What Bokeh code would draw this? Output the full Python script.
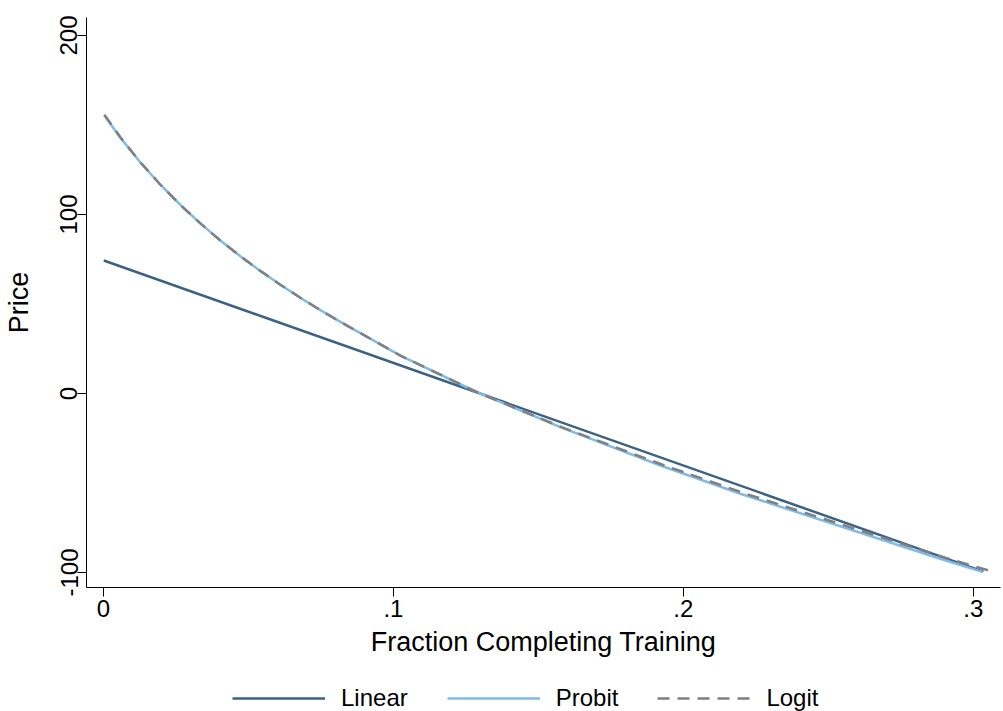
from bokeh.plotting import figure
from bokeh.layouts import column
from bokeh.models import Range1d, FixedTicker, Legend, LegendItem
from bokeh.embed import file_html
from bokeh.resources import INLINE

# ---- data ----
linear_x = [0.0001, 0.3035]
linear_y = [74.3, -99.5]

probit_x = [0.0003, 0.0059, 0.0128, 0.0197, 0.0266, 0.0335, 0.0403, 0.0472,
            0.0541, 0.0610, 0.0679, 0.0748, 0.0811, 0.1024, 0.1289, 0.1576,
            0.1921, 0.2197, 0.2886, 0.3034]
probit_y = [155.3, 142.7, 128.9, 116.5, 105.2, 94.9, 85.5, 76.7,
            68.5, 60.8, 53.5, 46.6, 40.6, 21.2, 0.7, -18.8,
            -40.2, -56.0, -92.3, -99.8]

logit_x = [0.0003, 0.0059, 0.0128, 0.0197, 0.0266, 0.0335, 0.0403, 0.0472,
           0.0541, 0.0610, 0.0679, 0.0748, 0.0811, 0.1024, 0.1289, 0.1580,
           0.1935, 0.2215, 0.2900, 0.3068]
logit_y = [155.8, 143.0, 129.0, 116.5, 105.2, 94.9, 85.5, 76.7,
           68.5, 60.8, 53.5, 46.6, 40.6, 21.2, 0.7, -18.8,
           -40.2, -56.0, -91.6, -99.6]

x_ticks = [0, 0.1, 0.2, 0.3]
x_tick_labels = ["0", ".1", ".2", ".3"]
y_ticks = [-100, 0, 100, 200]
y_tick_labels = ["-100", "0", "100", "200"]

series_names = ["Linear", "Probit", "Logit"]
colors = ["#3b6283", "#7ebbe9", "#808080"]
dashes = ["solid", "solid", "12 8"]

FONT = "Liberation Sans"

p = figure(frame_width=914, frame_height=570, output_backend="svg",
           toolbar_location=None,
           x_range=Range1d(-0.005864, 0.3094), y_range=Range1d(-108.38, 210.06),
           min_border_left=86, min_border_right=3, min_border_top=17,
           min_border_bottom=0)
p.outline_line_color = None
p.grid.visible = False
p.background_fill_color = "white"
p.border_fill_color = "white"

series = [(linear_x, linear_y), (probit_x, probit_y), (logit_x, logit_y)]
for (sx, sy), c, d in zip(series, colors, dashes):
    p.line(sx, sy, line_color=c, line_width=2.5, line_dash=d)

for ax in (p.xaxis[0], p.yaxis[0]):
    ax.major_tick_out = 9
    ax.major_tick_in = 0
    ax.minor_tick_out = 0
    ax.minor_tick_in = 0
    ax.axis_line_color = "black"
    ax.major_tick_line_color = "black"
    ax.major_label_text_font = FONT
    ax.major_label_text_font_size = "24px"
    ax.major_label_text_color = "black"
    ax.axis_label_text_font = FONT
    ax.axis_label_text_font_size = "27px"
    ax.axis_label_text_font_style = "normal"
    ax.axis_label_text_color = "black"

p.xaxis.ticker = FixedTicker(ticks=x_ticks)
p.xaxis.major_label_overrides = dict(zip(x_ticks, x_tick_labels))
p.xaxis.axis_label = "Fraction Completing Training"
p.xaxis.major_label_standoff = 3
p.xaxis.axis_label_standoff = 7

p.yaxis.ticker = FixedTicker(ticks=y_ticks)
p.yaxis.major_label_overrides = dict(zip(y_ticks, y_tick_labels))
p.yaxis.axis_label = "Price"
p.yaxis.major_label_orientation = "vertical"
p.yaxis.major_label_standoff = 0
p.yaxis.axis_label_standoff = 24

# ---- legend strip below the chart (series drawn out of view, legend only) ----
lf = figure(width=1003, height=72, output_backend="svg", toolbar_location=None,
            x_range=Range1d(0, 1), y_range=Range1d(1000, 1001), min_border=0)
lf.outline_line_color = None
lf.grid.visible = False
lf.axis.visible = False
lf.border_fill_color = "white"
lf.background_fill_color = "white"

items = []
for name, (sx, sy), c, d in zip(series_names, series, colors, dashes):
    rr = lf.line(sx, sy, line_color=c, line_width=2.5, line_dash=d)
    items.append(LegendItem(label=name, renderers=[rr]))

legend = Legend(items=items, orientation="horizontal", location=(146, 19),
                glyph_width=93, glyph_height=28, label_height=28,
                label_standoff=16, spacing=39,
                label_text_font=FONT, label_text_font_size="24px",
                label_text_color="black",
                border_line_color=None, background_fill_alpha=0,
                padding=0, margin=0)
lf.add_layout(legend, "center")

layout = column(p, lf, spacing=0)
open("out.html", "w").write(file_html(layout, INLINE))
